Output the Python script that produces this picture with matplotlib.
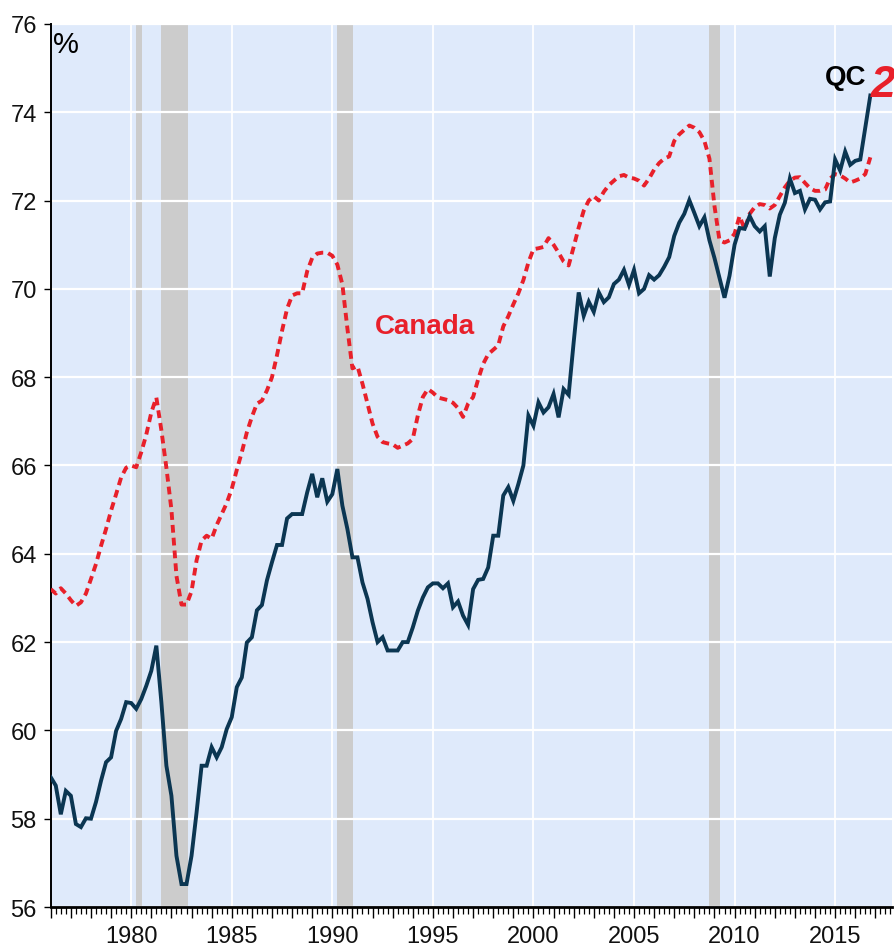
#!/usr/bin/env python3
"""
Employment rate, Quebec vs Canada, quarterly 1976-2016
"""

import numpy as np
import matplotlib
matplotlib.use('Agg')  # Non-interactive backend
import matplotlib.pyplot as plt
from matplotlib.ticker import MultipleLocator, FuncFormatter

# Quarterly values, first point is 1976Q1
start_year = 1976

qc_rate = [
    58.94, 58.75, 58.10, 58.63,  58.52, 57.88, 57.81, 58.01,  # 1976-77
    58.00, 58.38, 58.86, 59.28,  59.39, 59.99, 60.26, 60.64,  # 1978-79
    60.62, 60.49, 60.71, 61.01,  61.35, 61.92, 60.64, 59.20,  # 1980-81
    58.52, 57.16, 56.52, 56.52,  57.16, 58.14, 59.20, 59.20,  # 1982-83
    59.62, 59.39, 59.62, 60.03,  60.30, 60.98, 61.20, 61.99,  # 1984-85
    62.11, 62.72, 62.84, 63.40,  63.81, 64.20, 64.20, 64.80,  # 1986-87
    64.90, 64.90, 64.90, 65.39,  65.81, 65.28, 65.71, 65.18,  # 1988-89
    65.35, 65.92, 65.09, 64.56,  63.92, 63.92, 63.35, 62.98,  # 1990-91
    62.45, 62.00, 62.11, 61.81,  61.81, 61.81, 62.00, 62.00,  # 1992-93
    62.33, 62.71, 63.01, 63.24,  63.33, 63.33, 63.22, 63.33,  # 1994-95
    62.79, 62.92, 62.60, 62.39,  63.20, 63.41, 63.43, 63.69,  # 1996-97
    64.41, 64.41, 65.32, 65.51,  65.20, 65.58, 66.00, 67.13,  # 1998-99
    66.90, 67.43, 67.20, 67.32,  67.62, 67.09, 67.73, 67.60,  # 2000-01
    68.79, 69.92, 69.39, 69.71,  69.48, 69.92, 69.70, 69.81,  # 2002-03
    70.11, 70.21, 70.43, 70.09,  70.43, 69.90, 70.00, 70.31,  # 2004-05
    70.21, 70.31, 70.50, 70.72,  71.20, 71.50, 71.70, 72.01,  # 2006-07
    71.72, 71.42, 71.62, 71.10,  70.70, 70.25, 69.80, 70.30,  # 2008-09
    71.00, 71.38, 71.36, 71.65,  71.42, 71.30, 71.42, 70.28,  # 2010-11
    71.15, 71.68, 71.95, 72.50,  72.17, 72.22, 71.80, 72.04,  # 2012-13
    72.02, 71.80, 71.96, 71.98,  72.93, 72.68, 73.11, 72.81,  # 2014-15
    72.90, 72.93, 73.65, 74.38,                               # 2016
]

canada_rate = [
    63.20, 63.10, 63.22, 63.10,  62.95, 62.82, 62.90, 63.10,  # 1976-77
    63.43, 63.77, 64.18, 64.56,  64.98, 65.35, 65.73, 65.95,  # 1978-79
    66.00, 65.96, 66.30, 66.70,  67.20, 67.54, 66.80, 65.95,  # 1980-81
    65.00, 63.50, 62.85, 62.85,  63.15, 63.85, 64.30, 64.41,  # 1982-83
    64.34, 64.65, 64.90, 65.15,  65.47, 65.90, 66.30, 66.75,  # 1984-85
    67.10, 67.40, 67.47, 67.70,  68.00, 68.50, 69.05, 69.55,  # 1986-87
    69.85, 69.90, 69.90, 70.40,  70.70, 70.80, 70.82, 70.82,  # 1988-89
    70.75, 70.55, 70.10, 69.10,  68.20, 68.25, 67.85, 67.40,  # 1990-91
    66.95, 66.65, 66.53, 66.50,  66.48, 66.40, 66.45, 66.50,  # 1992-93
    66.60, 67.13, 67.55, 67.73,  67.65, 67.54, 67.51, 67.48,  # 1994-95
    67.42, 67.30, 67.10, 67.40,  67.55, 67.95, 68.30, 68.52,  # 1996-97
    68.62, 68.72, 69.15, 69.38,  69.65, 69.90, 70.20, 70.60,  # 1998-99
    70.90, 70.92, 70.95, 71.15,  71.00, 70.82, 70.62, 70.53,  # 2000-01
    70.95, 71.39, 71.77, 72.00,  72.10, 72.00, 72.20, 72.35,  # 2002-03
    72.45, 72.55, 72.58, 72.52,  72.50, 72.45, 72.34, 72.50,  # 2004-05
    72.70, 72.85, 72.95, 73.00,  73.35, 73.50, 73.60, 73.70,  # 2006-07
    73.65, 73.55, 73.35, 72.95,  71.88, 71.10, 71.05, 71.10,  # 2008-09
    71.25, 71.65, 71.35, 71.70,  71.85, 71.92, 71.90, 71.82,  # 2010-11
    71.90, 72.10, 72.30, 72.45,  72.52, 72.53, 72.40, 72.28,  # 2012-13
    72.22, 72.22, 72.25, 72.50,  72.60, 72.57, 72.50, 72.41,  # 2014-15
    72.45, 72.50, 72.60, 72.98,                               # 2016
]

# Recession periods (start, end) in fractional years
recession_start = [1980.25, 1981.5, 1990.25, 2008.75]
recession_end = [1980.55, 1982.8, 1991.05, 2009.3]

label_years = [1980, 1985, 1990, 1995, 2000, 2005, 2010, 2015]

BG_BLUE = '#dfeafb'
QC_NAVY = '#0b3652'
CAN_RED = '#e8202a'
TICK_FONT = ['Liberation Sans', 'DejaVu Sans']


def year_label(value, pos):
    """Only every fifth year gets a label"""
    yr = int(round(value))
    return str(yr) if yr % 5 == 0 and abs(value - yr) < 1e-6 else ''


def main():
    years = start_year + np.arange(len(qc_rate)) / 4.0

    fig = plt.figure(figsize=(8.95, 9.53), dpi=100)
    ax = fig.add_axes([0.0567, 0.0472, 0.9400, 0.9266])
    ax.set_facecolor(BG_BLUE)

    # Recession shading
    for s, e in zip(recession_start, recession_end):
        ax.axvspan(s, e, color='#cccccc', lw=0, zorder=0.2)

    # White grid
    ax.set_axisbelow(True)
    ax.grid(axis='y', color='white', lw=1.6)
    for yr in label_years:
        ax.axvline(yr, color='white', lw=1.3, zorder=0.5)

    # Series
    ax.plot(years, canada_rate, color=CAN_RED, lw=2.8,
            linestyle=(0, (2.0, 1.3)), zorder=3)
    ax.plot(years, qc_rate, color=QC_NAVY, lw=2.8, zorder=4,
            solid_joinstyle='miter')

    ax.set_xlim(1976, 2017.83)
    ax.set_ylim(56, 76)

    # Axis ticks
    ax.yaxis.set_major_locator(MultipleLocator(2))
    ax.xaxis.set_major_locator(MultipleLocator(1))
    ax.xaxis.set_minor_locator(MultipleLocator(0.25))
    ax.xaxis.set_major_formatter(FuncFormatter(year_label))
    ax.tick_params(axis='x', which='major', length=8, width=1.0,
                   direction='out', pad=5)
    ax.tick_params(axis='x', which='minor', length=5, width=0.9,
                   direction='out')
    ax.tick_params(axis='y', which='major', length=5, width=1.0,
                   direction='out', pad=5)
    for lab in ax.get_xticklabels() + ax.get_yticklabels():
        lab.set_family(TICK_FONT)
        lab.set_fontsize(17)
        lab.set_color('#111111')

    for side in ['top', 'right']:
        ax.spines[side].set_visible(False)
    ax.spines['left'].set_linewidth(1.4)
    ax.spines['bottom'].set_linewidth(2.0)

    # Labels
    ax.text(0.003, 0.993, '%', transform=ax.transAxes, ha='left', va='top',
            fontsize=21, family=['Liberation Sans', 'DejaVu Sans'])
    ax.text(1994.62, 69.17, 'Canada', color=CAN_RED, fontsize=20,
            fontweight='bold', ha='center', va='center',
            family=['Liberation Sans', 'DejaVu Sans'], zorder=5)
    ax.text(2015.53, 74.8, 'QC', color='black', fontsize=20,
            fontweight='bold', ha='center', va='center',
            family=['Liberation Sans', 'DejaVu Sans'], zorder=5)

    # Red logo mark at the right edge
    fig.text(0.973, 0.898, '2', color=CAN_RED, fontsize=32,
             fontweight='bold', style='italic', ha='left', va='baseline',
             family=['Liberation Sans', 'DejaVu Sans'])

    fig.savefig('out.png', dpi=100)
    plt.close(fig)


if __name__ == "__main__":
    main()
